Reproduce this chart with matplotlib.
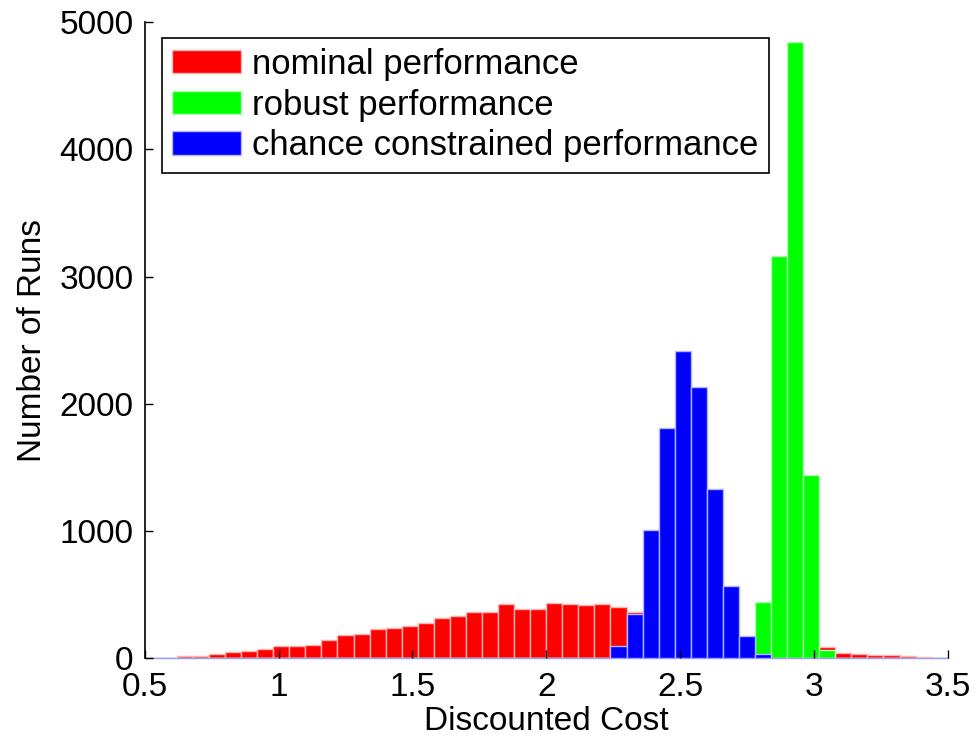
import numpy as np
import matplotlib
matplotlib.use("Agg")
import matplotlib.pyplot as plt

plt.rcParams['font.family'] = ['Liberation Sans', 'DejaVu Sans']

# 50 bins of width 0.06 between 0.5 and 3.5
bin_edges = np.linspace(0.5, 3.5, 51)

nominal = [5, 2, 18, 18, 32, 47, 55, 73, 97, 97,
           105, 147, 186, 192, 231, 239, 255, 281, 320, 333,
           365, 362, 428, 388, 386, 436, 428, 417, 423, 407,
           367, 330, 300, 270, 240, 200, 160, 140, 120, 105,
           98, 92, 88, 39, 34, 29, 26, 20, 14, 2]

robust = [0] * 38 + [441, 3161, 4844, 1438, 65] + [0] * 7

chance = [0] * 28 + [5, 94, 346, 1008, 1808, 2412, 2131, 1328, 566, 176, 30] + [0] * 11

labels = ["nominal performance", "robust performance",
          "chance constrained performance"]

fig = plt.figure(figsize=(9.78, 7.43), dpi=100)
ax = fig.add_axes([0.148, 0.114, 0.821, 0.856])

width = bin_edges[1] - bin_edges[0]
series = [(nominal, '#ff0000', '#ffb4b4'),
          (robust, '#00ff00', '#b4ffb4'),
          (chance, '#0000ff', '#b4b4ff')]
for (vals, fc, ec), lab in zip(series, labels):
    ax.bar(bin_edges[:-1], vals, width=width, align='edge',
           color=fc, edgecolor=ec, linewidth=1.0, label=lab)

ax.set_xlim(0.5, 3.5)
ax.set_ylim(0, 5000)
ax.set_xticks([0.5, 1, 1.5, 2, 2.5, 3, 3.5])
ax.set_xticklabels(['0.5', '1', '1.5', '2', '2.5', '3', '3.5'])
ax.set_yticks([0, 1000, 2000, 3000, 4000, 5000])

ax.spines['top'].set_visible(False)
ax.spines['right'].set_visible(False)
ax.spines['left'].set_linewidth(1.2)
ax.spines['bottom'].set_linewidth(1.0)
ax.spines['bottom'].set_color('#9a9aff')
ax.spines['bottom'].set_zorder(0.5)
ax.tick_params(direction='in', length=6, width=1.0, labelsize=24)
ax.tick_params(axis='x', pad=10)
ax.tick_params(axis='y', pad=8)

ax.set_xlabel("Discounted Cost", fontsize=24, labelpad=2)
ax.set_ylabel("Number of Runs", fontsize=24, labelpad=8)

leg = ax.legend(loc='upper left', bbox_to_anchor=(0.021, 0.976), fontsize=25,
                handlelength=2.0, handleheight=0.65, handletextpad=0.3,
                labelspacing=0.22, borderpad=0.3, fancybox=False,
                edgecolor='black', framealpha=1.0, borderaxespad=0)
leg.get_frame().set_linewidth(1.2)

fig.savefig("out.png", dpi=100)
